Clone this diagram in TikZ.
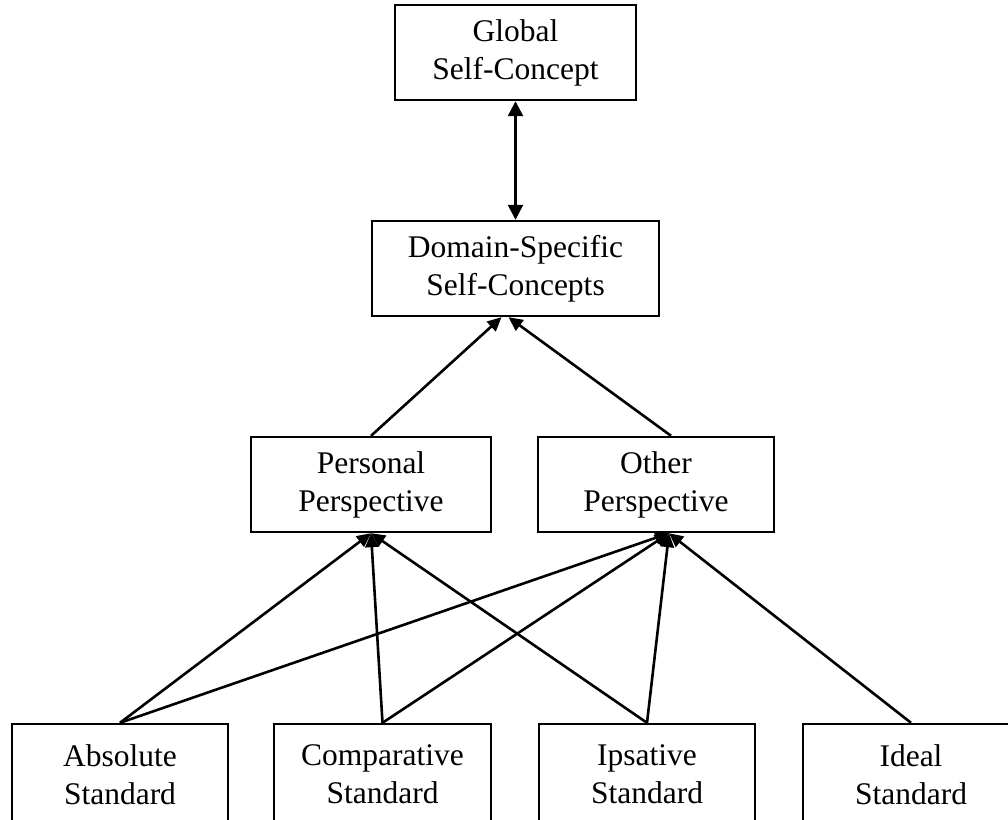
\documentclass[tikz,border=0pt]{standalone}
\usepackage{fontspec}
\setmainfont{Liberation Serif}
\usetikzlibrary{arrows.meta,calc}
\begin{document}
\begin{tikzpicture}[x=1pt,y=-1pt,
  box/.style={draw,line width=2.4pt,rectangle,inner sep=0pt,minimum height=95pt,
    align=center,font=\fontsize{31.5}{38}\selectfont},
  lowbox/.style={box,minimum height=101pt},
  link/.style={line width=2.6pt,-{Triangle[length=14pt,width=13pt]}},
  both/.style={line width=2.6pt,{Triangle[length=15pt,width=15pt]}-{Triangle[length=15pt,width=15pt]}}]
\useasboundingbox (0,0) rectangle (1008,819);
\clip (0,0) rectangle (1008,819);
% top of the hierarchy
\node[box,minimum width=241pt] (glob) at (515.5,52.5) {Global\\Self-Concept};
\node[box,minimum width=287pt] (dom) at (515.5,268.5) {Domain-Specific\\Self-Concepts};
% perspectives
\node[box,minimum width=240pt] (pers) at (371,484.5) {Personal\\Perspective};
\node[box,minimum width=236pt] (oth) at (656,484.5) {Other\\Perspective};
% standards (their lower edges run off the page)
\node[lowbox,minimum width=216pt] (abs) at (120,774.5) {Absolute\\Standard};
\node[lowbox,minimum width=217pt] (comp) at (382.5,774.5) {Comparative\\Standard};
\node[lowbox,minimum width=216pt] (ips) at (647,774.5) {Ipsative\\Standard};
\node[lowbox,minimum width=216pt] (ideal) at (911,774.5) {Ideal\\Standard};
% attachment points
\coordinate (othT) at ($(oth.north)+(15,0)$);
\coordinate (othB) at ($(oth.south)+(13,0)$);
\coordinate (domL) at ($(dom.south)+(-14,0)$);
\coordinate (domR) at ($(dom.south)+(-7,0)$);
% connectors
\draw[both] (glob.south) -- (dom.north);
\draw[link] (pers.north) -- (domL);
\draw[link] (othT) -- (domR);
\draw[link] (abs.north) -- (pers.south);
\draw[link] (abs.north) -- (othB);
\draw[link] (comp.north) -- (pers.south);
\draw[link] (comp.north) -- (othB);
\draw[link] (ips.north) -- (pers.south);
\draw[link] (ips.north) -- (othB);
\draw[link] (ideal.north) -- (othB);
\end{tikzpicture}
\end{document}
